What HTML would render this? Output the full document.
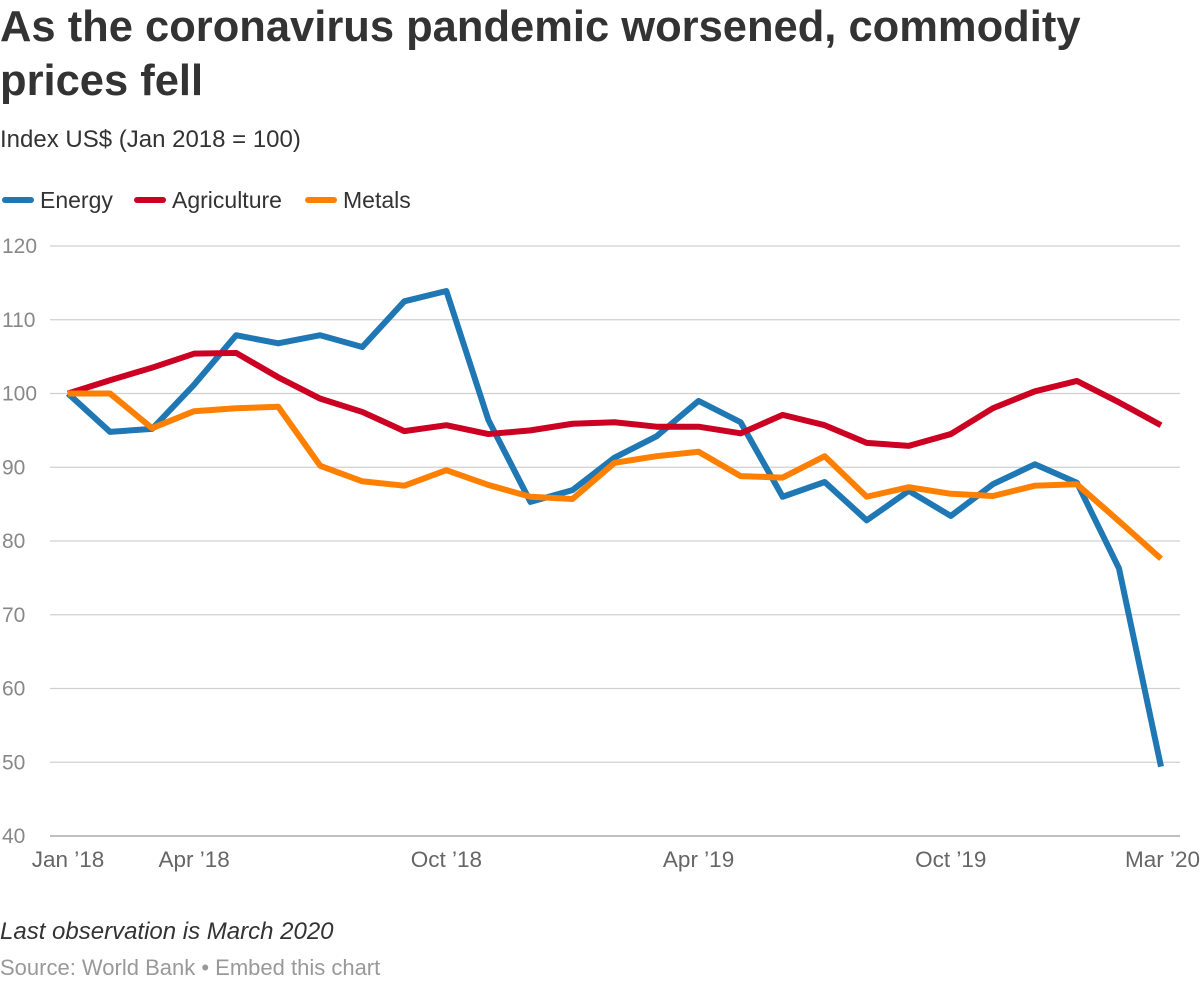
<!DOCTYPE html>
<html><head><meta charset="utf-8"><style>
body{margin:0;background:#fff;font-family:"Liberation Sans",Arial,sans-serif;width:1200px;height:990px;overflow:hidden;position:relative}
#title{position:absolute;left:0;top:0;font-size:43.5px;font-weight:bold;color:#333;line-height:54px;margin:0;width:1110px}
#sub{position:absolute;left:0;top:126px;font-size:24px;color:#333}
#note{position:absolute;left:0;top:918px;font-size:24px;font-style:italic;color:#333}
#src{position:absolute;left:0;top:955px;font-size:22px;color:#999}
svg{position:absolute;left:0;top:0}
</style></head><body>
<h1 id="title">As the coronavirus pandemic worsened, commodity prices fell</h1>
<div id="sub">Index US$ (Jan 2018 = 100)</div>
<div id="note">Last observation is March 2020</div>
<div id="src">Source: World Bank • Embed this chart</div>
<svg id="chart" width="1200" height="990"></svg>
<script>
const yTicks=[40,50,60,70,80,90,100,110,120];
const xTickIdx=[0,3,9,15,21,26];
const xTickLabels=["Jan ’18","Apr ’18","Oct ’18","Apr ’19","Oct ’19","Mar ’20"];
const seriesNames=["Energy","Agriculture","Metals"];
const energy=[100,94.8,95.2,101.2,107.9,106.8,107.9,106.3,112.5,113.9,96.4,85.3,86.9,91.3,94.2,99,96.1,86,88,82.8,86.8,83.4,87.7,90.4,87.9,76.3,49.4];
const agriculture=[100,101.8,103.5,105.4,105.5,102.2,99.3,97.5,94.9,95.7,94.5,95,95.9,96.1,95.5,95.5,94.6,97.1,95.7,93.3,92.9,94.5,98,100.3,101.7,98.8,95.7];
const metals=[100,100,95.3,97.6,98,98.2,90.2,88.1,87.5,89.6,87.6,86,85.7,90.6,91.5,92.1,88.8,88.6,91.5,86,87.3,86.4,86.1,87.5,87.7,82.7,77.6];
const colors=["#1f78b4","#cc0022","#ff8000"];
const svg=document.getElementById('chart');const NS="http://www.w3.org/2000/svg";
const x=i=>68+i*(1161-68)/26;
const y=v=>836-(v-40)*(590/80);
function mk(t,a){const e=document.createElementNS(NS,t);for(const k in a)e.setAttribute(k,a[k]);svg.appendChild(e);return e;}
yTicks.forEach(v=>{
 const l=mk('line',{x1:50,x2:1180,y1:y(v),y2:y(v),stroke:v===40?'#999':'#d0d0d0','stroke-width':1.3});
 
 
 const t=mk('text',{x:2,y:y(v)+7,'font-size':21,fill:'#888'});t.textContent=v;
 
 
});
xTickIdx.forEach((idx,k)=>{
 const last=k===xTickIdx.length-1;
 const t=mk('text',{x:last?1200:x(idx),y:867,'font-size':22.5,fill:'#666','text-anchor':last?'end':'middle'});t.textContent=xTickLabels[k];
 
 
});
[energy,agriculture,metals].forEach((d,s)=>{
 const p=mk('polyline',{points:d.map((v,i)=>x(i)+','+y(v)).join(' '),fill:'none',stroke:colors[s],'stroke-width':6,'stroke-linejoin':'round'});
 
 
});
const lx=[2,134,305];
seriesNames.forEach((n,s)=>{
 const l=mk('line',{x1:lx[s]+3,x2:lx[s]+29,y1:200,y2:200,stroke:colors[s],'stroke-width':6,'stroke-linecap':'round'});
 
 
 const t=mk('text',{x:lx[s]+38,y:208,'font-size':23,fill:'#333'});t.textContent=n;
 
 
});
</script>
</body></html>
